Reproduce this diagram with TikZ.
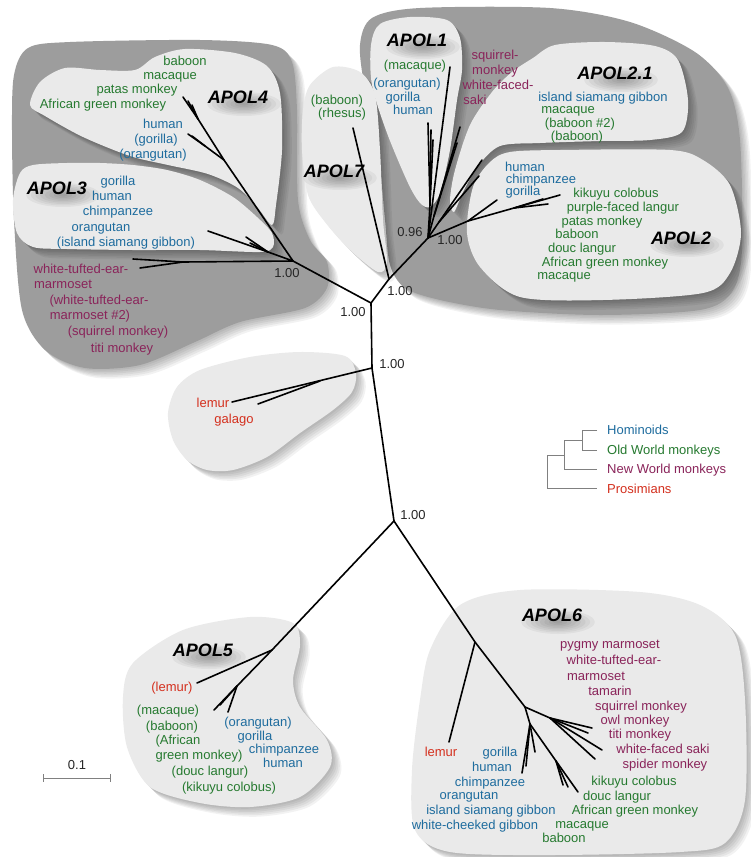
\documentclass[tikz,border=0pt]{standalone}
\usepackage{fontspec}
\setmainfont{Liberation Sans}
\definecolor{cHom}{RGB}{30,108,158}
\definecolor{cOwm}{RGB}{38,122,48}
\definecolor{cNwm}{RGB}{138,36,90}
\definecolor{cPro}{RGB}{212,48,30}
\definecolor{darkreg}{RGB}{157,157,157}
\definecolor{lightreg}{RGB}{234,234,234}
\newcommand{\regionfill}[2]{%
  \foreach \k in {1,...,6}{%
    \begin{scope}[shift={(\k*1.6,\k*1.6)}]
      \fill[black,opacity=0.05] plot[smooth cycle] coordinates {#1};
    \end{scope}}
  \fill[#2] plot[smooth cycle] coordinates {#1};}
\newcommand{\apolglow}[2]{%
  \foreach \r in {1,...,8}{%
    \fill[black,opacity=0.045] (#1,#2) ellipse [x radius={\r*4.6pt}, y radius={\r*1.5pt}];}}
\begin{document}
\begin{tikzpicture}[x=1pt,y=-1pt,
  lab/.style={anchor=base, yshift=-4.5pt, inner sep=0pt, font=\fontsize{13}{15}\selectfont},
  tHom/.style={lab, text=cHom}, tOwm/.style={lab, text=cOwm},
  tNwm/.style={lab, text=cNwm}, tPro/.style={lab, text=cPro},
  num/.style={lab, text=black!85},
  leg/.style={lab, anchor=base west},
  apol/.style={anchor=base, yshift=-6.5pt, inner sep=0pt, font=\fontsize{18}{20}\selectfont\bfseries\itshape},
  br/.style={line width=1.6pt, line cap=round, line join=round},
  legline/.style={draw=black!50, line width=0.9pt}]
\useasboundingbox (0,0) rectangle (751,857);
\fill[white] (0,0) rectangle (751,857);

% dark regions
\regionfill{(14,75) (28,48) (70,42) (200,40) (272,45) (292,62) (297,110) (298,200) (310,240) (327,262) (327,288) (305,308) (240,322) (195,342) (140,365) (85,368) (45,350) (22,310) (14,220) (12,130)}{darkreg}
\regionfill{(360,45) (372,18) (420,8) (550,8) (630,22) (695,52) (728,88) (740,140) (742,250) (732,292) (700,310) (600,315) (500,310) (440,300) (405,288) (390,265) (385,220) (378,150) (365,90)}{darkreg}

% light blobs
\regionfill{(30,105) (40,82) (65,68) (100,70) (135,70) (155,57) (185,49) (235,53) (267,66) (280,93) (282,150) (276,205) (272,225) (258,208) (238,188) (208,174) (168,165) (130,156) (83,137) (45,116)}{lightreg}
\regionfill{(13,200) (20,173) (33,165) (67,163) (100,163) (133,165) (167,170) (200,180) (233,197) (257,217) (272,233) (273,247) (260,252) (200,250) (133,250) (67,249) (33,247) (17,233)}{lightreg}
\regionfill{(303,110) (310,85) (333,67) (360,72) (375,95) (380,150) (383,220) (387,262) (378,272) (350,250) (325,222) (308,195) (302,150)}{lightreg}
\regionfill{(371,45) (380,24) (410,17) (447,20) (460,38) (462,70) (457,100) (450,150) (440,193) (430,207) (420,203) (408,183) (387,133) (372,85)}{lightreg}
\regionfill{(533,58) (555,45) (605,42) (655,46) (678,60) (688,100) (682,132) (650,140) (600,141) (540,143) (500,146) (478,166) (463,192) (454,212) (450,200) (455,170) (470,125) (492,92) (512,72)}{lightreg}
\regionfill{(473,187) (490,162) (510,152) (560,150) (670,150) (703,160) (730,185) (741,233) (730,273) (703,293) (603,300) (520,297) (480,267) (467,233)}{lightreg}
\regionfill{(168,413) (177,387) (200,370) (250,357) (300,352) (345,356) (356,373) (352,392) (333,410) (300,433) (267,457) (233,470) (207,470) (187,460) (173,440)}{lightreg}
\regionfill{(123,697) (133,663) (183,630) (250,617) (293,623) (300,645) (293,680) (300,707) (327,740) (330,767) (300,797) (250,807) (200,803) (150,787) (127,747)}{lightreg}
\regionfill{(430,650) (460,605) (520,590) (640,592) (700,605) (735,635) (745,700) (745,800) (725,843) (680,852) (550,855) (450,852) (415,830) (412,770) (420,700)}{lightreg}

% glows behind APOL labels
\apolglow{244}{104}
\apolglow{63}{195}
\apolglow{340}{178}
\apolglow{423}{47}
\apolglow{621}{80}
\apolglow{687}{245}
\apolglow{209}{657}
\apolglow{558}{622}

% tree coordinates
\coordinate (R) at (394,521);
\coordinate (L) at (372,368);
\coordinate (N1) at (371,303);
\coordinate (N2) at (389,279);
\coordinate (A34) at (293,261);
\coordinate (A12) at (428,238);
\coordinate (t7) at (353,128);
\coordinate (Lg) at (320,381);
\coordinate (tLem) at (232,402);
\coordinate (tGal) at (258,404);
\coordinate (nw) at (183,262);
\coordinate (nwa) at (133,259);
\coordinate (nwb) at (140,268);
\coordinate (a3) at (268,252);
\coordinate (t3a) at (208,231);
\coordinate (t3b) at (246,237);
\coordinate (t3c) at (250,243);
\coordinate (a4) at (224,160);
\coordinate (a4f) at (198,119);
\coordinate (t4a) at (183,97);
\coordinate (t4b) at (188,101);
\coordinate (t4c) at (192,105);
\coordinate (hb) at (205,146);
\coordinate (t4h) at (188,134);
\coordinate (t4i) at (192,136);
\coordinate (t1m) at (450,67);
\coordinate (a1) at (430,205);
\coordinate (t1a) at (428,123);
\coordinate (t1b) at (431,130);
\coordinate (t1c) at (433,140);
\coordinate (sqn) at (434,216);
\coordinate (tsq1) at (460,127);
\coordinate (tsq2) at (457,143);
\coordinate (a21) at (439,222);
\coordinate (t21a) at (482,160);
\coordinate (t21b) at (479,176);
\coordinate (a2) at (468,221);
\coordinate (t2h) at (497,200);
\coordinate (a2o) at (514,208);
\coordinate (t2a) at (560,195);
\coordinate (t2b) at (543,199);
\coordinate (t2c) at (548,204);
\coordinate (a5) at (272,650);
\coordinate (t5l) at (197,683);
\coordinate (a5b) at (237,686);
\coordinate (t5a) at (214,710);
\coordinate (t5b) at (228,712);
\coordinate (t5c) at (220,705);
\coordinate (a6) at (475,642);
\coordinate (t6l) at (449,742);
\coordinate (a6n) at (525,707);
\coordinate (nwn) at (550,718);
\coordinate (t6n1) at (592,728);
\coordinate (t6n2) at (602,750);
\coordinate (t6n3) at (595,759);
\coordinate (t6n4) at (588,733);
\coordinate (a6h) at (530,724);
\coordinate (t6h1) at (522,773);
\coordinate (t6h2) at (535,752);
\coordinate (t6h3) at (526,766);
\coordinate (a6o) at (556,761);
\coordinate (t6o) at (578,792);
\coordinate (t6o2) at (563,785);
\coordinate (t6o3) at (568,787);

% tree branches
\draw[br] (R) -- (L) -- (N1);
\draw[br] (N1) -- (A34);
\draw[br] (N1) -- (N2);
\draw[br] (N2) -- (t7);
\draw[br] (N2) -- (A12);
\draw[br] (L) -- (tLem);
\draw[br] (Lg) -- (tGal);
\draw[br] (A34) -- (nw) -- (nwa);
\draw[br] (nw) -- (nwb);
\draw[br] (A34) -- (a3) -- (t3a);
\draw[br] (a3) -- (t3b);
\draw[br] (a3) -- (t3c);
\draw[br] (A34) -- (a4) -- (a4f) -- (t4a);
\draw[br] (a4f) -- (t4b);
\draw[br] (a4f) -- (t4c);
\draw[br] (a4) -- (hb) -- (t4h);
\draw[br] (hb) -- (t4i);
\draw[br] (A12) -- (t1m);
\draw[br] (A12) -- (a1) -- (t1a);
\draw[br] (a1) -- (t1b);
\draw[br] (a1) -- (t1c);
\draw[br] (A12) -- (sqn) -- (tsq1);
\draw[br] (sqn) -- (tsq2);
\draw[br] (A12) -- (a21) -- (t21a);
\draw[br] (a21) -- (t21b);
\draw[br] (A12) -- (a2) -- (t2h);
\draw[br] (a2) -- (a2o) -- (t2a);
\draw[br] (a2o) -- (t2b);
\draw[br] (a2o) -- (t2c);
\draw[br] (R) -- (a5) -- (t5l);
\draw[br] (a5) -- (a5b) -- (t5a);
\draw[br] (a5b) -- (t5b);
\draw[br] (a5b) -- (t5c);
\draw[br] (R) -- (a6) -- (t6l);
\draw[br] (a6) -- (a6n) -- (nwn) -- (t6n2);
\draw[br] (nwn) -- (t6n1);
\draw[br] (nwn) -- (t6n3);
\draw[br] (nwn) -- (t6n4);
\draw[br] (a6n) -- (a6h) -- (t6h1);
\draw[br] (a6h) -- (t6h2);
\draw[br] (a6h) -- (t6h3);
\draw[br] (a6h) -- (a6o) -- (t6o);
\draw[br] (a6o) -- (t6o2);
\draw[br] (a6o) -- (t6o3);

% support values
\node[num] (s096) at (410,232) {0.96};
\node[num] (s12) at (450,240) {1.00};
\node[num] (sN2) at (400,291) {1.00};
\node[num] (sN1) at (353,312) {1.00};
\node[num] (s34) at (287,273) {1.00};
\node[num] (sL) at (392,364) {1.00};
\node[num] (sR) at (413,515) {1.00};

% APOL4
\node[apol] (p4) at (238,97) {APOL4};
\node[tOwm] (n41) at (185,61) {baboon};
\node[tOwm] (n42) at (170,75) {macaque};
\node[tOwm] (n43) at (137,89) {patas monkey};
\node[tOwm] (n44) at (103,104) {African green monkey};
\node[tHom] (n45) at (163,124) {human};
\node[tHom] (n46) at (156,139) {(gorilla)};
\node[tHom] (n47) at (153,154) {(orangutan)};

% APOL3
\node[apol] (p3) at (57,188) {APOL3};
\node[tHom] (n31) at (118,181) {gorilla};
\node[tHom] (n32) at (112,196) {human};
\node[tHom] (n33) at (118,211) {chimpanzee};
\node[tHom] (n34) at (101,227) {orangutan};
\node[tHom] (n35) at (126,242) {(island siamang gibbon)};
\node[tNwm] (n36) at (81,269) {white-tufted-ear-};
\node[tNwm] (n37) at (63,284) {marmoset};
\node[tNwm] (n38) at (99,300) {(white-tufted-ear-};
\node[tNwm] (n39) at (90,315) {marmoset \#2)};
\node[tNwm] (n3a) at (118,331) {(squirrel monkey)};
\node[tNwm] (n3b) at (122,348) {titi monkey};

% APOL7
\node[apol] (p7) at (334,171) {APOL7};
\node[tOwm] (n71) at (337,100) {(baboon)};
\node[tOwm] (n72) at (342,113) {(rhesus)};

% APOL1
\node[apol] (p1) at (417,40) {APOL1};
\node[tOwm] (n11) at (415,65) {(macaque)};
\node[tHom] (n12) at (407,83) {(orangutan)};
\node[tHom] (n13) at (403,97) {gorilla};
\node[tHom] (n14) at (413,110) {human};
\node[tNwm] (n15) at (495,55) {squirrel-};
\node[tNwm] (n16) at (495,70) {monkey};
\node[tNwm] (n17) at (498,85) {white-faced-};
\node[tNwm] (n18) at (475,100) {saki};

% APOL2.1
\node[apol] (p21) at (615,73) {APOL2.1};
\node[tHom] (n211) at (603,97) {island siamang gibbon};
\node[tOwm] (n212) at (568,109) {macaque};
\node[tOwm] (n213) at (580,123) {(baboon \#2)};
\node[tOwm] (n214) at (577,136) {(baboon)};

% APOL2
\node[apol] (p2) at (681,238) {APOL2};
\node[tHom] (n21) at (525,167) {human};
\node[tHom] (n22) at (541,179) {chimpanzee};
\node[tHom] (n23) at (523,191) {gorilla};
\node[tOwm] (n24) at (616,193) {kikuyu colobus};
\node[tOwm] (n25) at (623,207) {purple-faced langur};
\node[tOwm] (n26) at (602,221) {patas monkey};
\node[tOwm] (n27) at (577,234) {baboon};
\node[tOwm] (n28) at (582,248) {douc langur};
\node[tOwm] (n29) at (605,262) {African green monkey};
\node[tOwm] (n2a) at (564,275) {macaque};

% prosimian clade
\node[tPro] (nl1) at (213,403) {lemur};
\node[tPro] (nl2) at (234,419) {galago};

% legend
\coordinate (lgH0) at (582,430); \coordinate (lgH1) at (597,430);
\coordinate (lgO0) at (582,450); \coordinate (lgO1) at (597,450);
\coordinate (lgHO) at (582,440); \coordinate (lgHOn) at (564,440);
\coordinate (lgN0) at (564,469); \coordinate (lgN1) at (597,469);
\coordinate (lgM) at (564,455); \coordinate (lgR) at (547,455);
\coordinate (lgP0) at (547,488); \coordinate (lgP1) at (597,488);
\draw[legline] (lgH1) -- (lgH0) -- (lgO0) -- (lgO1);
\draw[legline] (lgHO) -- (lgHOn);
\draw[legline] (lgHOn) -- (lgN0) -- (lgN1);
\draw[legline] (lgM) -- (lgR);
\draw[legline] (lgR) -- (lgP0) -- (lgP1);
\node[leg, text=cHom] (lg1) at (607,430) {Hominoids};
\node[leg, text=cOwm] (lg2) at (607,450) {Old World monkeys};
\node[leg, text=cNwm] (lg3) at (607,469) {New World monkeys};
\node[leg, text=cPro] (lg4) at (607,489) {Prosimians};

% APOL5
\node[apol] (p5) at (203,650) {APOL5};
\node[tPro] (n51) at (172,687) {(lemur)};
\node[tOwm] (n52) at (168,710) {(macaque)};
\node[tOwm] (n53) at (172,726) {(baboon)};
\node[tOwm] (n54) at (178,740) {(African};
\node[tOwm] (n55) at (199,755) {green monkey)};
\node[tOwm] (n56) at (210,771) {(douc langur)};
\node[tOwm] (n57) at (229,787) {(kikuyu colobus)};
\node[tHom] (n58) at (258,722) {(orangutan)};
\node[tHom] (n59) at (255,736) {gorilla};
\node[tHom] (n5a) at (284,749) {chimpanzee};
\node[tHom] (n5b) at (283,763) {human};

% APOL6
\node[apol] (p6) at (552,615) {APOL6};
\node[tNwm] (n61) at (610,644) {pygmy marmoset};
\node[tNwm] (n62) at (614,660) {white-tufted-ear-};
\node[tNwm] (n63) at (596,676) {marmoset};
\node[tNwm] (n64) at (610,691) {tamarin};
\node[tNwm] (n65) at (641,706) {squirrel monkey};
\node[tNwm] (n66) at (635,720) {owl monkey};
\node[tNwm] (n67) at (640,734) {titi monkey};
\node[tNwm] (n68) at (663,749) {white-faced saki};
\node[tNwm] (n69) at (665,764) {spider monkey};
\node[tOwm] (n6a) at (634,781) {kikuyu colobus};
\node[tOwm] (n6b) at (617,796) {douc langur};
\node[tOwm] (n6c) at (635,810) {African green monkey};
\node[tOwm] (n6d) at (582,824) {macaque};
\node[tOwm] (n6e) at (564,838) {baboon};
\node[tPro] (n6f) at (441,752) {lemur};
\node[tHom] (n6g) at (500,752) {gorilla};
\node[tHom] (n6h) at (492,767) {human};
\node[tHom] (n6i) at (490,782) {chimpanzee};
\node[tHom] (n6j) at (469,795) {orangutan};
\node[tHom] (n6k) at (491,810) {island siamang gibbon};
\node[tHom] (n6l) at (475,825) {white-cheeked gibbon};

% scale bar
\coordinate (sb1) at (43,778); \coordinate (sb2) at (110,778);
\coordinate (sb1a) at (43,774); \coordinate (sb1b) at (43,782);
\coordinate (sb2a) at (110,774); \coordinate (sb2b) at (110,782);
\draw[legline] (sb1) -- (sb2);
\draw[legline] (sb1a) -- (sb1b);
\draw[legline] (sb2a) -- (sb2b);
\node[num] (sbl) at (77,765) {0.1};
\end{tikzpicture}
\end{document}
